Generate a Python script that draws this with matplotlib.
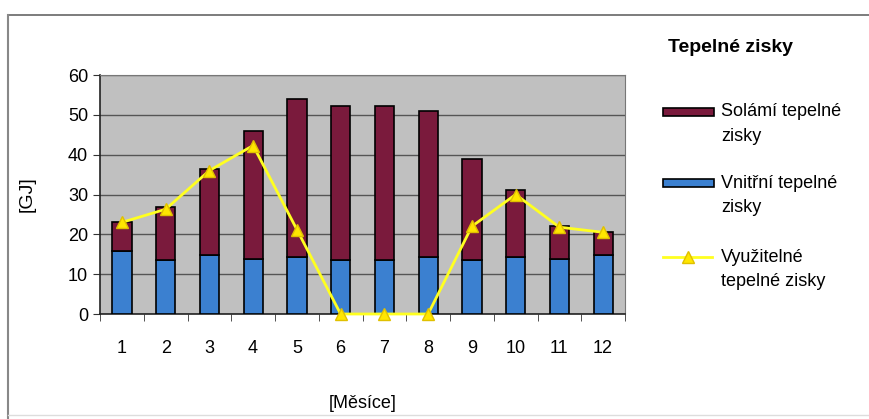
import numpy as np
import matplotlib.pyplot as plt
from matplotlib.patches import Rectangle
from matplotlib.lines import Line2D

plt.rcParams['font.family'] = ['Liberation Sans', 'DejaVu Sans']

months = [str(m) for m in range(1, 13)]
vnitrni = [15.7, 13.6, 14.9, 13.9, 14.4, 13.6, 13.6, 14.3, 13.6, 14.4, 13.9, 14.9]
celkem = [23.2, 26.8, 36.4, 45.9, 53.9, 52.2, 52.2, 51.0, 39.0, 31.2, 22.2, 20.6]
solarni = [c - v for c, v in zip(celkem, vnitrni)]
vyuzitelne = [23.0, 26.3, 36.0, 42.3, 21.2, 0, 0, 0, 22.0, 30.0, 21.8, 20.5]

legend_labels = [('Solámí tepelné', 'zisky'),
                 ('Vnitřní tepelné', 'zisky'),
                 ('Využitelné', 'tepelné zisky')]

C_SOL = '#7a1a3c'
C_VNI = '#3b80d0'
C_LINE = '#ffff20'
W, H = 869, 419


def fx(px):
    return px / W


def fy(py):
    return 1 - py / H


fig = plt.figure(figsize=(8.69, 4.19), dpi=100)
ax = fig.add_axes([fx(100), fy(314), 525 / W, 239 / H])
ax.set_facecolor('#c0c0c0')

x = np.arange(len(months))
ax.bar(x, vnitrni, width=0.44, color=C_VNI, edgecolor='black', linewidth=1.2, zorder=3)
ax.bar(x, solarni, width=0.44, bottom=vnitrni, color=C_SOL, edgecolor='black',
       linewidth=1.2, zorder=3)
ax.plot(x, vyuzitelne, color=C_LINE, lw=2, marker='^', ms=9, mfc='#ffe600',
        mec='#e0c000', zorder=4, clip_on=False)

ax.set_xlim(-0.5, 11.5)
ax.set_ylim(0, 60)
ax.set_yticks(range(0, 61, 10))
ax.yaxis.grid(True, color='#555555', lw=1, zorder=1)
ax.set_xticks(x)
ax.set_xticklabels(months)
ax.set_xticks(np.arange(-0.5, 12, 1), minor=True)
ax.tick_params(axis='x', which='major', length=0, pad=19, labelsize=13)
ax.tick_params(axis='x', which='minor', length=5, direction='out', color='#333333')
ax.tick_params(axis='y', length=5, direction='out', labelsize=13, color='#333333')
for s in ['top', 'right']:
    ax.spines[s].set_color('#777777')
for s in ['left', 'bottom']:
    ax.spines[s].set_color('#222222')
    ax.spines[s].set_linewidth(1.2)

ax.set_ylabel('[GJ]', fontsize=14, labelpad=23)
ax.set_xlabel('[Měsíce]', fontsize=13, labelpad=27)

# legend block drawn by hand: title, then handle + two-line label per entry
fig.text(fx(668), fy(47), 'Tepelné zisky', fontsize=14, fontweight='bold',
         va='center', ha='left')

rows = [112, 183, 257]
for i, (row, (l1, l2)) in enumerate(zip(rows, legend_labels)):
    if i < 2:
        fig.add_artist(Rectangle((fx(663), fy(row + 4)), 51 / W, 8 / H,
                                 transform=fig.transFigure,
                                 facecolor=[C_SOL, C_VNI][i], edgecolor='black', lw=1.2))
    else:
        fig.add_artist(Line2D([fx(663), fx(712)], [fy(row), fy(row)],
                              transform=fig.transFigure, color=C_LINE, lw=2))
        fig.add_artist(Line2D([fx(688)], [fy(row)], transform=fig.transFigure,
                              marker='^', ms=8, mfc='#ffe600', mec='#e0c000', lw=0))
    fig.text(fx(721), fy(row), l1, fontsize=13, va='center', ha='left')
    fig.text(fx(721), fy(row + 24), l2, fontsize=13, va='center', ha='left')

# frame around the chart: top and left edges, faint bottom edge
fig.add_artist(Line2D([fx(8), 1], [fy(15), fy(15)], transform=fig.transFigure,
                      color='#666666', lw=1.2))
fig.add_artist(Line2D([fx(8), fx(8)], [fy(15), 0], transform=fig.transFigure,
                      color='#888888', lw=1.5))
fig.add_artist(Line2D([fx(8), 1], [fy(415), fy(415)], transform=fig.transFigure,
                      color='#dddddd', lw=1))

fig.savefig('out.png', dpi=100)
